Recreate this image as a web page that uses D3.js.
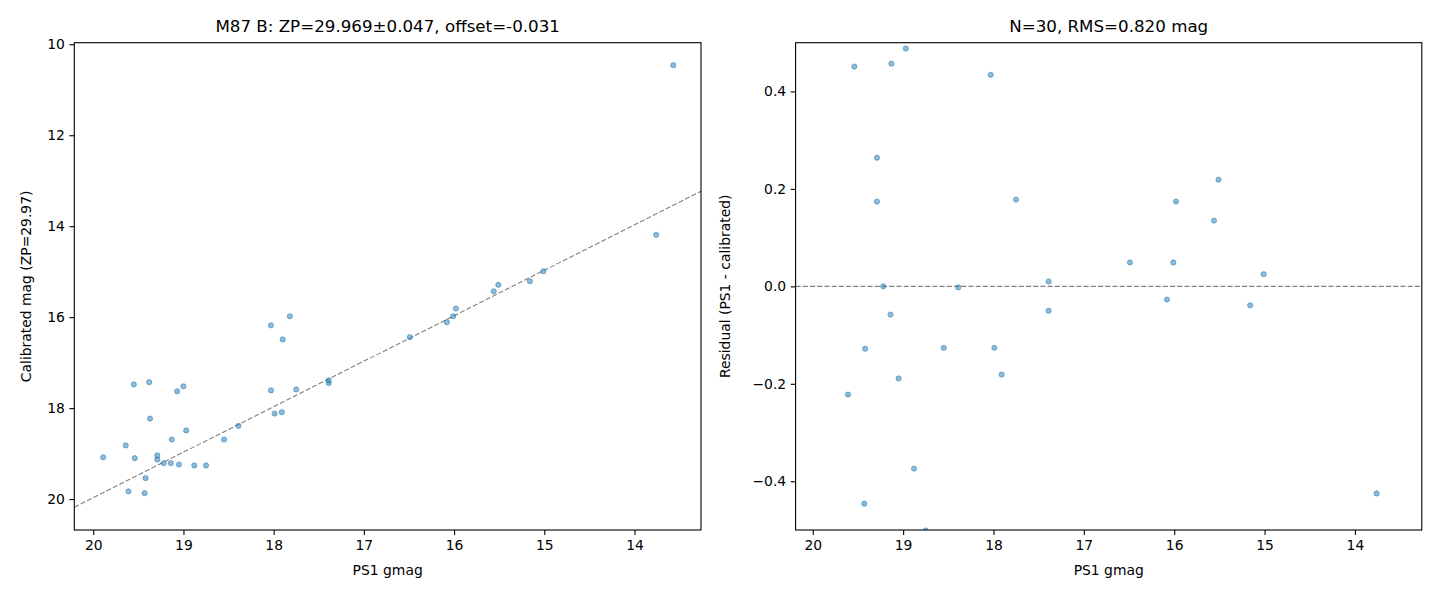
<!DOCTYPE html>
<html>
<head>
<meta charset="utf-8">
<script src="https://cdn.jsdelivr.net/npm/d3@7"></script>
<style>
  body { margin: 0; background: #fff; }
  svg text { font-family: "DejaVu Sans", sans-serif; fill: #000; }
  .axis path, .axis line { stroke: #000; stroke-width: 1.1; }
  .axis text { font-size: 13.9px; }
</style>
</head>
<body>
<div id="chart"></div>
<script>

// PS1 g magnitude of each star (shared by both panels)
var gmag = [19.89, 19.64, 19.61, 19.55, 19.54, 19.42, 19.43, 19.38, 19.37, 19.29,
            19.29, 19.22, 19.14, 19.13, 19.05, 19.07, 19.00, 18.97, 18.88, 18.75,
            18.55, 18.39, 18.03, 17.82, 17.90, 18.03, 17.75, 17.99, 17.91, 17.39,
            17.39, 16.49, 16.08, 16.01, 15.98, 15.56, 15.51, 15.16, 15.01, 13.76,
            13.57];

// calibrated magnitude (left panel)
var calMag = [19.08, 18.82, 19.83, 17.48, 19.10, 19.54, 19.87, 17.43, 18.23, 19.04,
              19.13, 19.21, 19.21, 18.69, 19.24, 17.63, 17.52, 18.49, 19.26, 19.26,
              18.69, 18.39, 16.18, 15.98, 16.49, 17.61, 17.59, 18.12, 18.09, 17.39,
              17.45, 16.44, 16.11, 15.98, 15.81, 15.43, 15.29, 15.21, 14.99, 14.19,
              10.46];

// residual PS1 - calibrated (right panel, values beyond +-0.5 fall outside the frame)
var resid = [0.81, 0.82, -0.222, 2.07, 0.451, -0.128, -0.446, 1.95, 1.14, 0.264,
             0.174, 0.000, -0.058, 0.457, -0.189, 1.44, 1.48, 0.488, -0.374, -0.501,
             -0.126, -0.002, 1.85, 1.84, 1.41, 0.434, 0.178, -0.126, -0.181, 0.010,
             -0.050, 0.049, -0.027, 0.049, 0.174, 0.135, 0.219, -0.039, 0.025, -0.425,
             3.11];

var offset = -0.031;

var xTicks = [20, 19, 18, 17, 16, 15, 14];
var calTicks = [10, 12, 14, 16, 18, 20];
var residTicks = [-0.4, -0.2, 0.0, 0.2, 0.4];

var titleLeft = "M87 B: ZP=29.969\u00b10.047, offset=-0.031";
var titleRight = "N=30, RMS=0.820 mag";
var xLabel = "PS1 gmag";
var yLabelLeft = "Calibrated mag (ZP=29.97)";
var yLabelRight = "Residual (PS1 - calibrated)";

var svg = d3.select("#chart").append("svg")
    .attr("width", 1440)
    .attr("height", 600);

var pts = gmag.map(function (g, i) {
    return { g: g, cal: calMag[i], res: resid[i] };
});

/*
 * draws one panel
 * opts: left/top/width/height of the axes box, domains, ticks, labels
 */
function drawPanel(opts) {
    var g = svg.append("g")
        .attr("transform", "translate(" + opts.left + "," + opts.top + ")");

    var x = d3.scaleLinear().domain(opts.xDomain).range([0, opts.width]);
    var y = d3.scaleLinear().domain(opts.yDomain).range([0, opts.height]);

    g.append("clipPath").attr("id", opts.id + "-clip")
        .append("rect")
        .attr("width", opts.width)
        .attr("height", opts.height);

    var plot = g.append("g").attr("clip-path", "url(#" + opts.id + "-clip)");

    // reference line
    plot.append("path")
        .datum(opts.lineData(x.domain()))
        .attr("d", d3.line()
            .x(function (d) { return x(d[0]); })
            .y(function (d) { return y(d[1]); }))
        .attr("fill", "none")
        .attr("stroke", "#808080")
        .attr("stroke-width", 1.1)
        .attr("stroke-dasharray", "5,2.2");

    plot.selectAll("circle")
        .data(pts)
        .enter().append("circle")
        .attr("cx", function (d) { return x(d.g); })
        .attr("cy", function (d) { return y(opts.yValue(d)); })
        .attr("r", 2.6)
        .attr("fill", "#1f77b4")
        .attr("fill-opacity", 0.5)
        .attr("stroke", "#1f77b4")
        .attr("stroke-opacity", 0.5)
        .attr("stroke-width", 1);

    // axes
    g.append("g")
        .attr("class", "axis")
        .attr("transform", "translate(0," + opts.height + ")")
        .call(d3.axisBottom(x).tickValues(xTicks).tickSize(4.9).tickPadding(5.5)
            .tickFormat(d3.format("d")))
        .call(function (a) { a.select(".domain").remove(); });

    g.append("g")
        .attr("class", "axis")
        .call(d3.axisLeft(y).tickValues(opts.yTicks).tickSize(4.9).tickPadding(4.5)
            .tickFormat(opts.yFormat))
        .call(function (a) { a.select(".domain").remove(); });

    // frame
    g.append("rect")
        .attr("width", opts.width)
        .attr("height", opts.height)
        .attr("fill", "none")
        .attr("stroke", "#000")
        .attr("stroke-width", 1.1);

    g.append("text")
        .attr("x", opts.width / 2)
        .attr("y", -11)
        .attr("text-anchor", "middle")
        .style("font-size", "16.7px")
        .text(opts.title);

    g.append("text")
        .attr("x", opts.width / 2)
        .attr("y", opts.height + 45)
        .attr("text-anchor", "middle")
        .style("font-size", "13.9px")
        .text(xLabel);

    g.append("text")
        .attr("transform", "translate(" + opts.yLabelX + "," + (opts.height / 2) + ") rotate(-90)")
        .attr("text-anchor", "middle")
        .style("font-size", "13.9px")
        .text(opts.yLabel);
}

drawPanel({
    id: "left",
    left: 74.3, top: 42.7, width: 626.7, height: 487.3,
    xDomain: [20.21, 13.263],
    yDomain: [9.965, 20.68],
    yTicks: calTicks,
    yFormat: d3.format("d"),
    yValue: function (d) { return d.cal; },
    lineData: function (dom) { return [[dom[0], dom[0] + offset], [dom[1], dom[1] + offset]]; },
    title: titleLeft,
    yLabel: yLabelLeft,
    yLabelX: -43
});

drawPanel({
    id: "right",
    left: 795.6, top: 42.7, width: 626.2, height: 487.3,
    xDomain: [20.19, 13.26],
    yDomain: [0.5, -0.5],
    yTicks: residTicks,
    yFormat: d3.format(".1f"),
    yValue: function (d) { return d.res; },
    lineData: function (dom) { return [[dom[0], 0], [dom[1], 0]]; },
    title: titleRight,
    yLabel: yLabelRight,
    yLabelX: -66
});

</script>
</body>
</html>
